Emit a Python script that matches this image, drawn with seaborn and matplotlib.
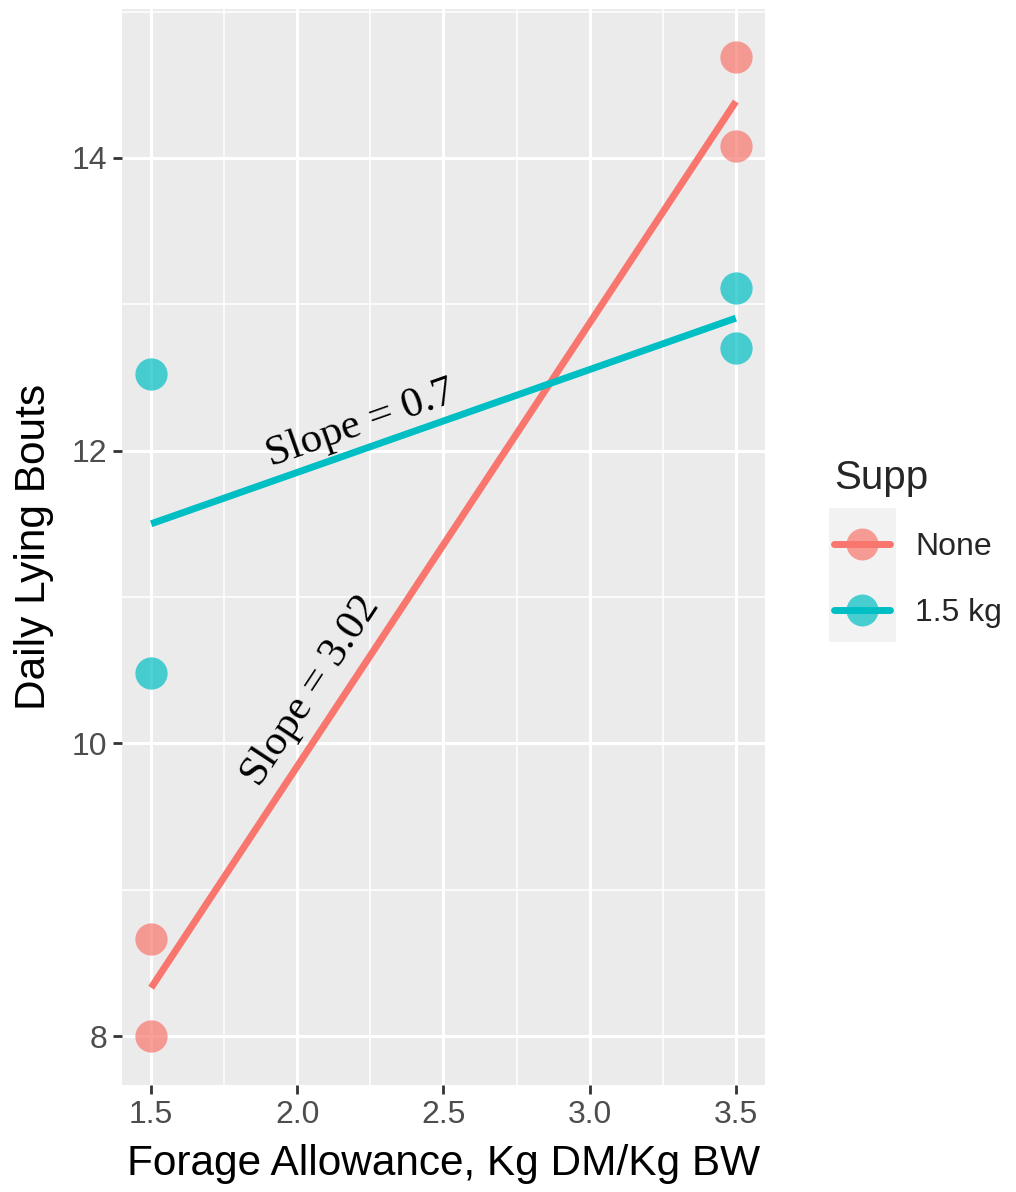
import matplotlib
matplotlib.use("Agg")
import matplotlib.pyplot as plt
from matplotlib.lines import Line2D
from matplotlib.patches import Rectangle
from matplotlib.ticker import MultipleLocator
import numpy as np
import pandas as pd
import seaborn as sns

# ── data ─────────────────────────────────────────────────────────────────────
forage = [1.5, 1.5, 3.5, 3.5, 1.5, 1.5, 3.5, 3.5]
bouts = [8.66, 8.00, 14.69, 14.08, 12.52, 10.48, 13.11, 12.70]
supp = ["None", "None", "None", "None", "1.5 kg", "1.5 kg", "1.5 kg", "1.5 kg"]
supp_levels = ["None", "1.5 kg"]
supp_colors = ["#F8766D", "#00BFC4"]
slope_text = ["Slope = 3.02", "Slope = 0.7"]
slope_text_at = [(2.047, 10.36), (2.218, 12.18)]

df = pd.DataFrame({"forage": forage, "bouts": bouts, "supp": supp})

# ── style: ggplot-like grey panel ────────────────────────────────────────────
sns.set_style("darkgrid", {"axes.facecolor": "#EBEBEB", "grid.color": "white"})
plt.rcParams["font.family"] = ["Liberation Sans", "DejaVu Sans"]

fig = plt.figure(figsize=(10.16, 11.92), dpi=100)
ax = fig.add_axes([0.120, 0.0898, 0.633, 0.903])

for lvl, col in zip(supp_levels, supp_colors):
    sub = df[df["supp"] == lvl]
    sns.regplot(data=sub, x="forage", y="bouts", ci=None, color=col, ax=ax,
                scatter_kws=dict(s=540, alpha=0.7, linewidths=0, zorder=3),
                line_kws=dict(lw=5, solid_capstyle="butt", zorder=2))

ax.set_xlim(1.4, 3.6)
ax.set_ylim(7.666, 15.02)
ax.set_xticks([1.5, 2.0, 2.5, 3.0, 3.5])
ax.set_xticklabels(["1.5", "2.0", "2.5", "3.0", "3.5"])
ax.set_yticks([8, 10, 12, 14])
ax.xaxis.set_minor_locator(MultipleLocator(0.25))
ax.yaxis.set_minor_locator(MultipleLocator(1))
ax.grid(which="major", color="white", lw=2.2)
ax.grid(which="minor", color="white", lw=1.1)
ax.set_axisbelow(True)
for s in ax.spines.values():
    s.set_visible(False)
ax.tick_params(which="major", length=6.5, width=2, color="#333333",
               labelsize=23, labelcolor="#4D4D4D", pad=4, left=True, bottom=True)
ax.tick_params(which="minor", length=0)

ax.set_xlabel("Forage Allowance, Kg DM/Kg BW", fontsize=30.5, color="black")
ax.set_ylabel("Daily Lying Bouts", fontsize=30.5, color="black")
ax.xaxis.set_label_coords(0.5, -0.0545)
ax.yaxis.set_label_coords(-0.105, 0.5)

# slope annotations, rotated along each fitted line
fig.canvas.draw()
for lvl, txt, (tx, ty) in zip(supp_levels, slope_text, slope_text_at):
    sub = df[df["supp"] == lvl]
    m, b = np.polyfit(sub["forage"], sub["bouts"], 1)
    p0 = ax.transData.transform((1.5, m * 1.5 + b))
    p1 = ax.transData.transform((3.5, m * 3.5 + b))
    ang = np.degrees(np.arctan2(p1[1] - p0[1], p1[0] - p0[0]))
    ax.text(tx, ty, txt, rotation=ang, rotation_mode="anchor", ha="center", va="center",
            fontsize=31, family=["Liberation Serif", "DejaVu Serif"], color="black", zorder=4)

# legend with ggplot-like grey key background
handles = []
for col in supp_colors:
    ln = Line2D([0], [0], color=col, lw=5)
    pt = Line2D([0], [0], color=col, lw=0, marker="o", markersize=23,
                markeredgewidth=0, alpha=0.7)
    handles.append((ln, pt))
fig.patches.append(Rectangle((0.816, 0.4614), 0.066, 0.1124, transform=fig.transFigure,
                             facecolor="#F2F2F2", edgecolor="none", zorder=0))
leg = fig.legend(handles, supp_levels, title="Supp", loc="upper left",
                 bbox_to_anchor=(0.808, 0.626), frameon=False, fontsize=23,
                 title_fontsize=29, handlelength=1.75, handletextpad=0.8,
                 labelspacing=1.12, borderaxespad=0)
leg._legend_box.align = "left"

plt.savefig("out.png", dpi=100)
